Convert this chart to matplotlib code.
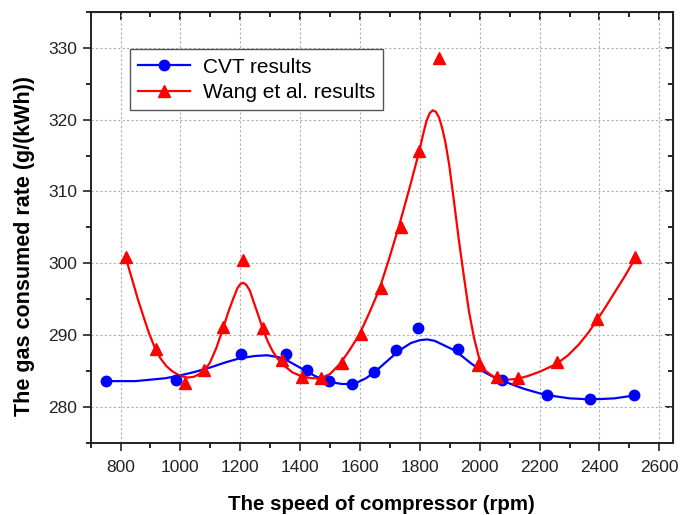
import matplotlib
matplotlib.use('Agg')
import matplotlib.pyplot as plt
from matplotlib.lines import Line2D
from matplotlib.ticker import MultipleLocator

plt.rcParams['font.family'] = ['Liberation Sans', 'DejaVu Sans']

# Измеренные точки
cvt_x = [750, 985, 1203, 1352, 1424, 1498, 1574, 1647, 1720, 1794, 1929, 2074, 2226, 2367, 2516]
cvt_y = [283.6, 283.8, 287.4, 287.4, 285.1, 283.6, 283.2, 284.8, 288.0, 291.0, 288.1, 283.7, 281.7, 281.1, 281.7]

wang_x = [819, 917, 1014, 1079, 1144, 1210, 1276, 1339, 1406, 1469, 1539, 1604, 1669,
          1736, 1798, 1864, 1994, 2058, 2128, 2259, 2391, 2520]
wang_y = [300.9, 288.1, 283.4, 285.2, 291.1, 300.5, 291.0, 286.5, 284.2, 284.1, 286.1, 290.1, 296.6,
          305.0, 315.7, 328.6, 285.8, 284.2, 284.1, 286.2, 292.2, 300.9]

# Сглаженные кривые
cvt_fit_x = [750, 800, 850, 900, 950, 1000, 1050, 1100, 1150, 1200, 1250, 1290, 1330, 1360,
             1390, 1420, 1450, 1480, 1510, 1540, 1565, 1590, 1620, 1650, 1680, 1710, 1740,
             1770, 1800, 1825, 1850, 1880, 1910, 1940, 1970, 2000, 2040, 2075, 2110, 2150,
             2200, 2250, 2300, 2350, 2400, 2450, 2516]
cvt_fit_y = [283.6, 283.6, 283.6, 283.8, 284.0, 284.4, 284.9, 285.5, 286.2, 286.8, 287.1, 287.2,
             286.9, 286.4, 285.7, 285.0, 284.3, 283.8, 283.4, 283.2, 283.2, 283.4, 284.0, 284.9,
             286.0, 287.1, 288.1, 288.9, 289.3, 289.4, 289.2, 288.6, 288.0, 287.1, 286.1, 285.2,
             284.3, 283.7, 283.1, 282.5, 281.9, 281.5, 281.2, 281.1, 281.1, 281.2, 281.6]

wang_fit_x = [819, 830, 842, 858, 875, 895, 914, 933, 953, 972, 992, 1010, 1025, 1045, 1064,
              1081, 1098, 1120, 1142, 1160, 1175, 1190, 1200, 1210, 1220, 1232, 1245, 1260,
              1275, 1292, 1309, 1325, 1342, 1375, 1409, 1440, 1470, 1500, 1533, 1565, 1598,
              1630, 1664, 1697, 1731, 1765, 1798, 1810, 1822, 1833, 1843, 1853, 1864, 1874,
              1885, 1898, 1914, 1931, 1948, 1964, 1981, 1998, 2020, 2053, 2090, 2125, 2160,
              2200, 2257, 2295, 2331, 2360, 2389, 2420, 2453, 2486, 2518]
wang_fit_y = [300.6, 299.0, 297.3, 295.0, 292.8, 290.3, 288.3, 286.8, 285.7, 285.0, 284.5, 284.2,
              284.1, 284.2, 284.6, 285.2, 286.1, 288.2, 290.9, 293.2, 294.9, 296.5, 297.1, 297.3,
              297.0, 296.2, 294.6, 292.8, 290.9, 289.1, 287.7, 286.7, 285.9, 284.8, 284.2, 284.0,
              284.0, 284.6, 286.0, 287.9, 290.1, 293.0, 296.3, 300.6, 305.3, 310.4, 315.6, 317.8,
              319.8, 320.9, 321.3, 321.1, 320.3, 318.9, 316.9, 313.7, 308.6, 303.0, 297.9, 293.3,
              289.6, 286.8, 285.0, 284.0, 283.8, 283.9, 284.3, 284.9, 286.0, 287.2, 288.7, 290.2,
              291.9, 293.9, 296.1, 298.3, 300.6]

blue = '#0000ff'
red = '#ff0000'

fig = plt.figure(figsize=(6.81, 5.15), dpi=100)
ax = fig.add_axes([0.133, 0.140, 0.855, 0.837])

ax.plot(cvt_fit_x, cvt_fit_y, color=blue, linewidth=1.6, zorder=3)
ax.plot(wang_fit_x, wang_fit_y, color=red, linewidth=1.6, zorder=3)
ax.plot(cvt_x, cvt_y, linestyle='none', marker='o', markersize=7.5, color=blue, zorder=4)
ax.plot(wang_x, wang_y, linestyle='none', marker='^', markersize=8.5, color=red, zorder=4)

ax.set_xlim(700, 2645)
ax.set_ylim(275, 335)
ax.xaxis.set_major_locator(MultipleLocator(200))
ax.xaxis.set_minor_locator(MultipleLocator(100))
ax.yaxis.set_major_locator(MultipleLocator(10))
ax.yaxis.set_minor_locator(MultipleLocator(5))

ax.grid(True, which='major', color='#b0b0b0', linestyle=(0, (2, 2)), linewidth=0.8)
ax.tick_params(which='major', direction='out', length=6, width=1.2, labelsize=12.5, colors='#222222')
ax.tick_params(which='minor', direction='out', length=3.5, width=1.2)
ax.tick_params(axis='x', pad=6)

for sp in ax.spines.values():
    sp.set_linewidth(1.4)
    sp.set_color('#222222')

# Зеркальные тики сверху и справа (внутрь)
top = ax.secondary_xaxis('top')
top.xaxis.set_major_locator(MultipleLocator(200))
top.xaxis.set_minor_locator(MultipleLocator(100))
top.tick_params(which='major', direction='in', length=6, width=1.2, labeltop=False)
top.tick_params(which='minor', direction='in', length=3.5, width=1.2)
right = ax.secondary_yaxis('right')
right.yaxis.set_major_locator(MultipleLocator(10))
right.yaxis.set_minor_locator(MultipleLocator(5))
right.tick_params(which='major', direction='in', length=6, width=1.2, labelright=False)
right.tick_params(which='minor', direction='in', length=3.5, width=1.2)

ax.set_xlabel('The speed of compressor (rpm)', fontsize=14.8, fontweight='bold', labelpad=14.5)
ax.set_ylabel('The gas consumed rate (g/(kWh))', fontsize=15.5, fontweight='bold')
ax.yaxis.set_label_coords(-0.095, 0.456)

handles = [
    Line2D([], [], color=blue, linewidth=1.6, marker='o', markersize=7.5),
    Line2D([], [], color=red, linewidth=1.6, marker='^', markersize=8.5),
]
leg = ax.legend(handles, ['CVT results', 'Wang et al. results'], loc='upper left',
                bbox_to_anchor=(0.067, 0.913), fontsize=15, fancybox=False,
                edgecolor='#555555', framealpha=1, handlelength=2.5, borderpad=0.4,
                labelspacing=0.3, handletextpad=0.6, borderaxespad=0)
leg.get_frame().set_linewidth(1.0)

plt.savefig('out.png', dpi=100)
